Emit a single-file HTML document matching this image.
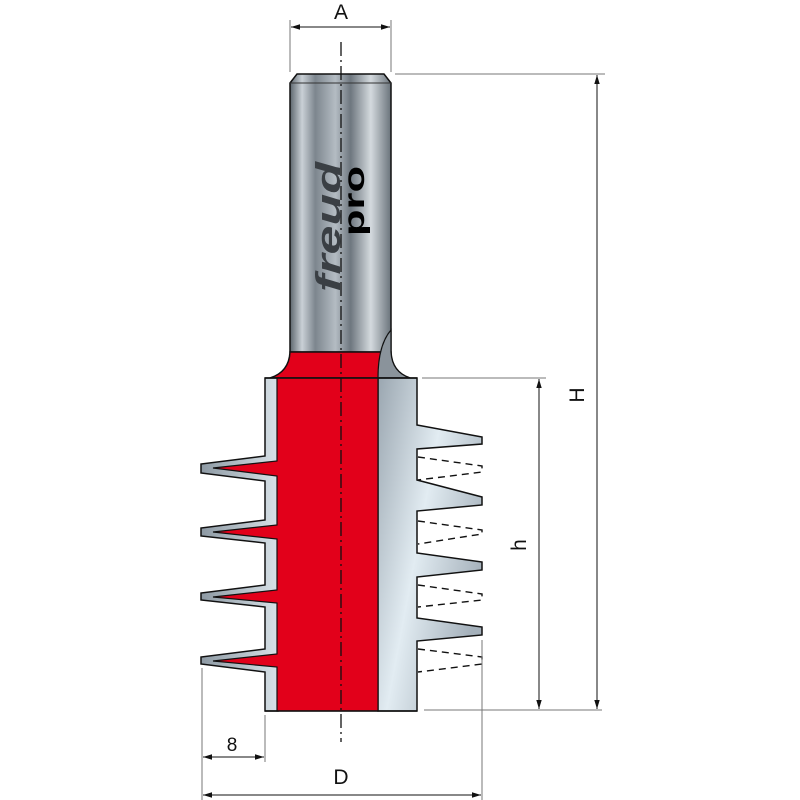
<!DOCTYPE html>
<html><head><meta charset="utf-8"><style>
html,body{margin:0;padding:0;background:#fff;}
svg{display:block;}
text{font-family:"Liberation Sans",sans-serif;fill:#111;}
</style></head><body>
<svg width="800" height="800" viewBox="0 0 800 800" xmlns="http://www.w3.org/2000/svg">
<defs>
<linearGradient id="sh" x1="0" x2="1" y1="0" y2="0">
<stop offset="0" stop-color="#5d666e"/>
<stop offset="0.12" stop-color="#c9d0d6"/>
<stop offset="0.25" stop-color="#7d868e"/>
<stop offset="0.45" stop-color="#b4bcc3"/>
<stop offset="0.6" stop-color="#6e777f"/>
<stop offset="0.8" stop-color="#d4dade"/>
<stop offset="1" stop-color="#6a737b"/>
</linearGradient>
<linearGradient id="bd" x1="0" x2="1" y1="0" y2="0.6">
<stop offset="0" stop-color="#9aa6b0"/>
<stop offset="0.5" stop-color="#e2ecf2"/>
<stop offset="1" stop-color="#a4b0ba"/>
</linearGradient>
<linearGradient id="lg" x1="0" x2="1" y1="0" y2="0">
<stop offset="0" stop-color="#8d99a3"/>
<stop offset="1" stop-color="#d8e2e8"/>
</linearGradient>
<marker id="ar" viewBox="0 0 10 10" refX="10" refY="5" markerWidth="9" markerHeight="9" orient="auto-start-reverse" markerUnits="userSpaceOnUse">
<path d="M0,2 L10,5 L0,8 Z" fill="#111"/></marker>
</defs>

<path d="M290,83 L297,74 L384,74 L391,83 L391,352 L290,352 Z" fill="url(#sh)" stroke="#111" stroke-width="1.5"/>
<line x1="290" y1="83" x2="391" y2="83" stroke="#333" stroke-width="1"/>
<path d="M290,352 L391,352 Q392,372 410,378 L270,378 Q289,372 290,352 Z" fill="#e2001a" stroke="#111" stroke-width="1.5"/>
<path d="M391,330 Q378,345 378,378 L410,378 Q392,372 391,352 Z" fill="#8a939b" stroke="#111" stroke-width="1.2"/>
<g transform="translate(340,292) rotate(-90)">
<text x="0" y="0" font-size="34" font-weight="bold" font-style="italic" style="fill:#3a3f44" textLength="130" lengthAdjust="spacingAndGlyphs">freud</text>
<text x="56" y="24" font-size="30" font-weight="bold" style="fill:#000" textLength="70" lengthAdjust="spacingAndGlyphs">pro</text>
</g>

<path d="M378,378 L417,378 L417,425 L482,437 L482,444 L417,449 L417,480 L482,497 L482,505 L417,511 L417,553 L482,562 L482,570 L417,577 L417,618 L482,627 L482,635 L417,641 L417,711 L378,711 Z" fill="url(#bd)" stroke="#111" stroke-width="1.5"/>
<g stroke="#111" stroke-width="1.4" stroke-dasharray="7,5" fill="none">
<path d="M418,457 L482,466 L482,472 L418,480"/>
<path d="M418,521 L482,530 L482,534 L418,544"/>
<path d="M418,585 L482,594 L482,600 L418,607"/>
<path d="M418,649 L482,657 L482,664 L418,672"/>
</g>
<path d="M265,378 L278,378 L278,711 L265,711 L265,672 L201,664 L201,657 L265,649 L265,607 L201,600 L201,593 L265,585 L265,543 L201,536 L201,528 L265,520 L265,481 L201,473 L201,464 L265,456 Z" fill="url(#lg)" stroke="#111" stroke-width="1.5"/>
<path d="M277,378 L378,378 L378,711 L277,711 L277,667 L213,661 L277,654 L277,603 L213,597 L277,590 L277,539 L213,532 L277,525 L277,476 L213,468 L277,461 Z" fill="#e2001a" stroke="#111" stroke-width="1.2"/>
<line x1="265" y1="378" x2="417" y2="378" stroke="#111" stroke-width="1.5"/>
<line x1="265" y1="711" x2="417" y2="711" stroke="#111" stroke-width="1.5"/>

<line x1="341" y1="42" x2="341" y2="742" stroke="#111" stroke-width="1.3" stroke-dasharray="14,4,2,4"/>

<g stroke="#777" stroke-width="1" fill="none">
<line x1="290" y1="20" x2="290" y2="72"/>
<line x1="391" y1="20" x2="391" y2="72"/>
<line x1="395" y1="74" x2="605" y2="74"/>
<line x1="422" y1="378" x2="546" y2="378"/>
<line x1="424" y1="710" x2="602" y2="710"/>
<line x1="202" y1="668" x2="202" y2="800"/>
<line x1="482" y1="640" x2="482" y2="800"/>
<line x1="265" y1="715" x2="265" y2="762"/>
</g>
<g stroke="#111" stroke-width="1">
<line x1="291" y1="27" x2="390" y2="27" marker-start="url(#ar)" marker-end="url(#ar)"/>
<line x1="597" y1="75" x2="597" y2="709" marker-start="url(#ar)" marker-end="url(#ar)"/>
<line x1="539" y1="379" x2="539" y2="709" marker-start="url(#ar)" marker-end="url(#ar)"/>
<line x1="203" y1="757" x2="264" y2="757" marker-start="url(#ar)" marker-end="url(#ar)"/>
<line x1="203" y1="795" x2="481" y2="795" marker-start="url(#ar)" marker-end="url(#ar)"/>
</g>
<text x="341" y="19" font-size="21" text-anchor="middle">A</text>
<text x="232" y="751" font-size="19" text-anchor="middle">8</text>
<text x="341" y="784" font-size="21" text-anchor="middle">D</text>
<text transform="translate(584,395) rotate(-90)" font-size="21" text-anchor="middle">H</text>
<text transform="translate(526,545) rotate(-90)" font-size="21" text-anchor="middle">h</text>
</svg>
</body></html>
